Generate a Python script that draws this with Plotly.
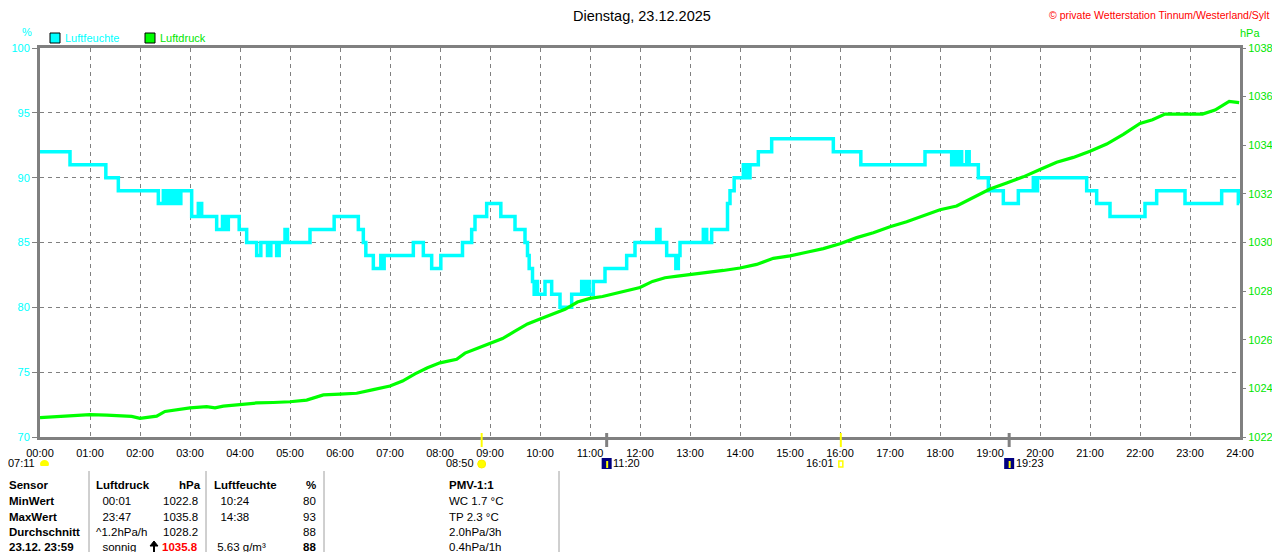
import plotly.graph_objects as go

# ---------------- data ----------------
hour_labels = ["%02d:00" % h for h in range(25)]

hum_times = ["00:00", "00:36", "01:19", "01:34", "02:22", "02:28", "02:31", "02:33", "02:35", "02:37",
             "02:39", "02:41", "02:43", "02:45", "02:47", "02:49", "03:02", "03:10", "03:14", "03:32",
             "03:39", "03:43", "03:46", "03:59", "04:08", "04:20", "04:25", "04:33", "04:37", "04:44",
             "04:47", "04:54", "04:57", "05:24", "05:53", "06:22", "06:28", "06:31", "06:40", "06:49",
             "06:51", "06:53", "07:28", "07:40", "07:50", "08:01", "08:27", "08:38", "08:42", "08:56",
             "09:13", "09:30", "09:42", "09:45", "09:47", "09:51", "09:53", "09:55", "09:57", "10:06",
             "10:14", "10:24", "10:38", "10:50", "10:52", "10:54", "10:56", "10:58", "10:59", "11:04",
             "11:18", "11:44", "11:54", "12:20", "12:24", "12:32", "12:43", "12:46", "12:48", "13:16",
             "13:20", "13:26", "13:45", "13:48", "13:53", "14:04", "14:06", "14:08", "14:10", "14:12",
             "14:22", "14:38", "15:52", "16:25", "17:42", "18:14", "18:16", "18:18", "18:20", "18:22",
             "18:24", "18:26", "18:32", "18:35", "18:46", "18:58", "19:16", "19:34", "19:52", "19:55",
             "19:57", "20:56", "21:08", "21:24", "22:06", "22:20", "22:54", "23:38", "23:58", "23:59"]
hum_values = [92, 91, 90, 89, 88, 89, 88, 89, 88, 89,
              88, 89, 88, 89, 88, 89, 87, 88, 87, 86,
              87, 86, 87, 86, 85, 84, 85, 84, 85, 84,
              85, 86, 85, 86, 87, 86, 85, 84, 83, 84,
              83, 84, 85, 84, 83, 84, 85, 86, 87, 88,
              87, 86, 85, 84, 83, 82, 81, 82, 81, 82,
              81, 80, 81, 82, 81, 82, 81, 82, 81, 82,
              83, 84, 85, 86, 85, 84, 83, 84, 85, 86,
              85, 86, 88, 89, 90, 91, 90, 91, 90, 91,
              92, 93, 92, 91, 92, 91, 92, 91, 92, 91,
              92, 91, 92, 91, 90, 89, 88, 89, 90, 89,
              90, 89, 88, 87, 88, 89, 88, 89, 88, 88]

p_times = ["00:00", "00:20", "00:40", "01:00", "01:20", "01:40", "01:50", "02:00", "02:10", "02:20",
           "02:30", "02:45", "03:00", "03:20", "03:30", "03:40", "04:00", "04:20", "04:40", "05:00",
           "05:20", "05:40", "06:00", "06:20", "06:40", "07:00", "07:15", "07:30", "07:45", "08:00",
           "08:20", "08:30", "08:45", "09:00", "09:15", "09:30", "09:45", "10:00", "10:15", "10:30",
           "10:45", "11:00", "11:15", "11:30", "11:45", "12:00", "12:15", "12:30", "12:45", "13:00",
           "13:20", "13:40", "14:00", "14:20", "14:40", "15:00", "15:20", "15:40", "16:00", "16:20",
           "16:40", "17:00", "17:20", "17:40", "18:00", "18:20", "18:40", "19:00", "19:20", "19:40",
           "20:00", "20:20", "20:40", "21:00", "21:20", "21:40", "22:00", "22:15", "22:30", "23:00",
           "23:15", "23:30", "23:47", "23:59"]
p_values = [1022.80, 1022.85, 1022.90, 1022.92, 1022.90, 1022.88, 1022.85, 1022.77, 1022.80, 1022.86,
            1023.05, 1023.12, 1023.20, 1023.25, 1023.20, 1023.27, 1023.35, 1023.40, 1023.42, 1023.45,
            1023.52, 1023.73, 1023.76, 1023.80, 1023.95, 1024.10, 1024.30, 1024.60, 1024.85, 1025.05,
            1025.20, 1025.45, 1025.65, 1025.85, 1026.05, 1026.35, 1026.65, 1026.85, 1027.05, 1027.25,
            1027.55, 1027.70, 1027.78, 1027.90, 1028.05, 1028.15, 1028.40, 1028.55, 1028.62, 1028.68,
            1028.75, 1028.85, 1028.95, 1029.10, 1029.35, 1029.45, 1029.60, 1029.75, 1029.95, 1030.20,
            1030.40, 1030.65, 1030.85, 1031.10, 1031.35, 1031.50, 1031.85, 1032.20, 1032.45, 1032.70,
            1033.00, 1033.30, 1033.50, 1033.75, 1034.05, 1034.45, 1034.90, 1035.05, 1035.28, 1035.30,
            1035.28, 1035.45, 1035.80, 1035.75]

sun_times = ["07:11", "08:50", "11:20", "16:01", "19:23"]

title_text = "Dienstag, 23.12.2025"
copyright_text = "© private Wetterstation Tinnum/Westerland/Sylt"

table_rows = ["Sensor", "MinWert", "MaxWert", "Durchschnitt", "23.12. 23:59"]
druck_left = ["<b>Luftdruck</b>", "  00:01", "  23:47", "^1.2hPa/h", "  sonnig"]
druck_right = ["<b>hPa</b>", "1022.8", "1035.8", "1028.2", "<b>1035.8</b>"]
feuchte_left = ["<b>Luftfeuchte</b>", "  10:24", "  14:38", "", " 5.63 g/m³"]
feuchte_right = ["<b>%</b>", "80", "93", "88", "<b>88</b>"]
pmv_col = ["<b>PMV-1:1</b>", "WC 1.7 °C", "TP 2.3 °C", "2.0hPa/3h", "0.4hPa/1h"]


def hours(t):
    h, m = t.split(":")
    return int(h) + int(m) / 60.0


# page pixel -> paper helpers (plot area on the page 40..1240 x 48..437)
def X(px):
    return (px - 40) / 1200.0


def Y(py):
    return (437 - py) / 389.0


FONT = "Liberation Sans, Arial, sans-serif"
CYAN = "#00ffff"
GREEN = "#00ff00"
GREEN_T = "#00e600"
GRAY = "#808080"

fig = go.Figure()
fig.add_trace(go.Scatter(x=[hours(t) for t in hum_times], y=hum_values, mode="lines",
                         line=dict(color=CYAN, width=3.5, shape="hv"), yaxis="y",
                         name="Luftfeuchte", showlegend=False))
fig.add_trace(go.Scatter(x=[hours(t) for t in p_times], y=p_values, mode="lines",
                         line=dict(color=GREEN, width=3.2), yaxis="y2",
                         name="Luftdruck", showlegend=False))

ann = []
shapes = []


def text(px, py, s, color="black", size=11, anchor="left", bold=False, xref="paper", xval=None):
    if bold:
        s = "<b>" + s + "</b>"
    ann.append(dict(x=(X(px) if xval is None else xval), y=Y(py), xref=xref, yref="paper",
                    text=s, showarrow=False, xanchor=anchor, yanchor="middle", borderpad=0,
                    font=dict(family=FONT, size=size, color=color)))


text(642, 16, title_text, size=14.5, anchor="center")
text(1048, 15, copyright_text, color="#ff0000", size=10.5, anchor="left")
text(27, 32, "%", color=CYAN, size=11, anchor="center")
text(1250, 33, "hPa", color=GREEN_T, size=11, anchor="center")
text(64, 38, "Luftfeuchte", color=CYAN, size=11)
text(159, 38, "Luftdruck", color=GREEN_T, size=11)

shapes.append(dict(type="rect", xref="paper", yref="paper", x0=X(50), x1=X(60), y0=Y(43), y1=Y(33),
                   fillcolor=CYAN, line=dict(color="black", width=1)))
shapes.append(dict(type="rect", xref="paper", yref="paper", x0=X(145), x1=X(155), y0=Y(43), y1=Y(33),
                   fillcolor=GREEN, line=dict(color="black", width=1)))

# sun events
st = [hours(t) for t in sun_times]
text(36, 463, sun_times[0], anchor="right")
shapes.append(dict(type="circle", xref="paper", yref="paper", x0=X(40), x1=X(49), y0=Y(468), y1=Y(460),
                   fillcolor="#ffff00", line=dict(color="#ffff00", width=0)))
shapes.append(dict(type="rect", xref="paper", yref="paper", x0=X(39), x1=X(50), y0=Y(470), y1=Y(466),
                   fillcolor="white", line=dict(width=0)))
for idx in (1, 3):
    shapes.append(dict(type="line", xref="x", yref="paper", x0=st[idx], x1=st[idx], y0=Y(447), y1=Y(433),
                       line=dict(color="#ffff00", width=2)))
shapes.append(dict(type="circle", xref="x", yref="paper", x0=st[1] - 0.08, x1=st[1] + 0.08,
                   y0=Y(468), y1=Y(460), fillcolor="#ffff00", line=dict(color="#ffee00", width=1)))
text(0, 463, sun_times[1], anchor="right", xref="x", xval=st[1] - 0.13)
shapes.append(dict(type="rect", xref="x", yref="paper", x0=st[3] - 0.04, x1=st[3] + 0.04,
                   y0=Y(467), y1=Y(461), fillcolor="white", line=dict(color="#ffff00", width=1.5)))
text(0, 463, sun_times[3], anchor="right", xref="x", xval=st[3] - 0.12)
for idx in (2, 4):
    shapes.append(dict(type="line", xref="x", yref="paper", x0=st[idx], x1=st[idx], y0=Y(447), y1=Y(433),
                       line=dict(color=GRAY, width=3)))
    shapes.append(dict(type="rect", xref="x", yref="paper", x0=st[idx] - 0.1, x1=st[idx] + 0.1,
                       y0=Y(469), y1=Y(458), fillcolor="#000080", line=dict(width=0)))
    shapes.append(dict(type="line", xref="x", yref="paper", x0=st[idx] + 0.01, x1=st[idx] + 0.01,
                       y0=Y(468), y1=Y(461), line=dict(color="#ffff00", width=2)))
    text(0, 463, sun_times[idx], anchor="left", xref="x", xval=st[idx] + 0.11)

# table
row_y = [485, 501, 517, 532, 547]
for i, yy in enumerate(row_y):
    text(8, yy, table_rows[i], size=11.5, bold=True)
    text(95, yy, druck_left[i], size=11.5)
    text(202 if i == 0 else 198.5, yy, druck_right[i], size=11.5, anchor="right",
         color="#ff0000" if i == 4 else "black")
    text(213, yy, feuchte_left[i], size=11.5)
    text(317, yy, feuchte_right[i], size=11.5, anchor="right")
    text(448, yy, pmv_col[i], size=11.5)
shapes.append(dict(type="line", xref="paper", yref="paper", x0=X(154), x1=X(154), y0=Y(552), y1=Y(542),
                   line=dict(color="black", width=2)))
shapes.append(dict(type="path", xref="paper", yref="paper",
                   path="M %f %f L %f %f L %f %f Z" % (X(150), Y(546), X(154), Y(541), X(158), Y(546)),
                   fillcolor="black", line=dict(color="black", width=1)))
for sx in (89, 206, 324, 559, 1278):
    shapes.append(dict(type="line", xref="paper", yref="paper", x0=X(sx), x1=X(sx), y0=Y(471), y1=Y(552),
                       line=dict(color="#a0a0a0", width=1)))

# the page body has an 8px margin: the figure is 1272x544 placed at (8, 8)
fig.update_layout(
    width=1272, height=544,
    margin=dict(l=32, r=40, t=40, b=115, autoexpand=False),
    paper_bgcolor="white", plot_bgcolor="white",
    font=dict(family=FONT, size=11, color="black"),
    showlegend=False,
    xaxis=dict(range=[0, 24], tickmode="array", tickvals=list(range(25)), ticktext=hour_labels,
               showgrid=True, gridcolor=GRAY, gridwidth=1, griddash="4px,4px",
               showline=True, linecolor=GRAY, linewidth=3, mirror=True, automargin=False,
               ticks="outside", ticklen=4, tickcolor="rgba(0,0,0,0)", zeroline=False,
               tickfont=dict(family=FONT, size=11, color="black")),
    yaxis=dict(range=[70, 100], dtick=5, tick0=70, automargin=False,
               showgrid=True, gridcolor=GRAY, gridwidth=1, griddash="4px,4px",
               showline=True, linecolor=GRAY, linewidth=3, mirror=True,
               ticks="outside", ticklen=5, tickcolor=GRAY, zeroline=False,
               tickfont=dict(family=FONT, size=11, color=CYAN)),
    yaxis2=dict(range=[1022, 1038], dtick=2, tick0=1022, overlaying="y", side="right",
                showgrid=False, showline=False, zeroline=False, automargin=False,
                ticks="outside", ticklen=5, tickcolor=GRAY,
                tickfont=dict(family=FONT, size=11, color=GREEN_T)),
    annotations=ann,
    shapes=shapes,
)

fig.write_html("out.html")
